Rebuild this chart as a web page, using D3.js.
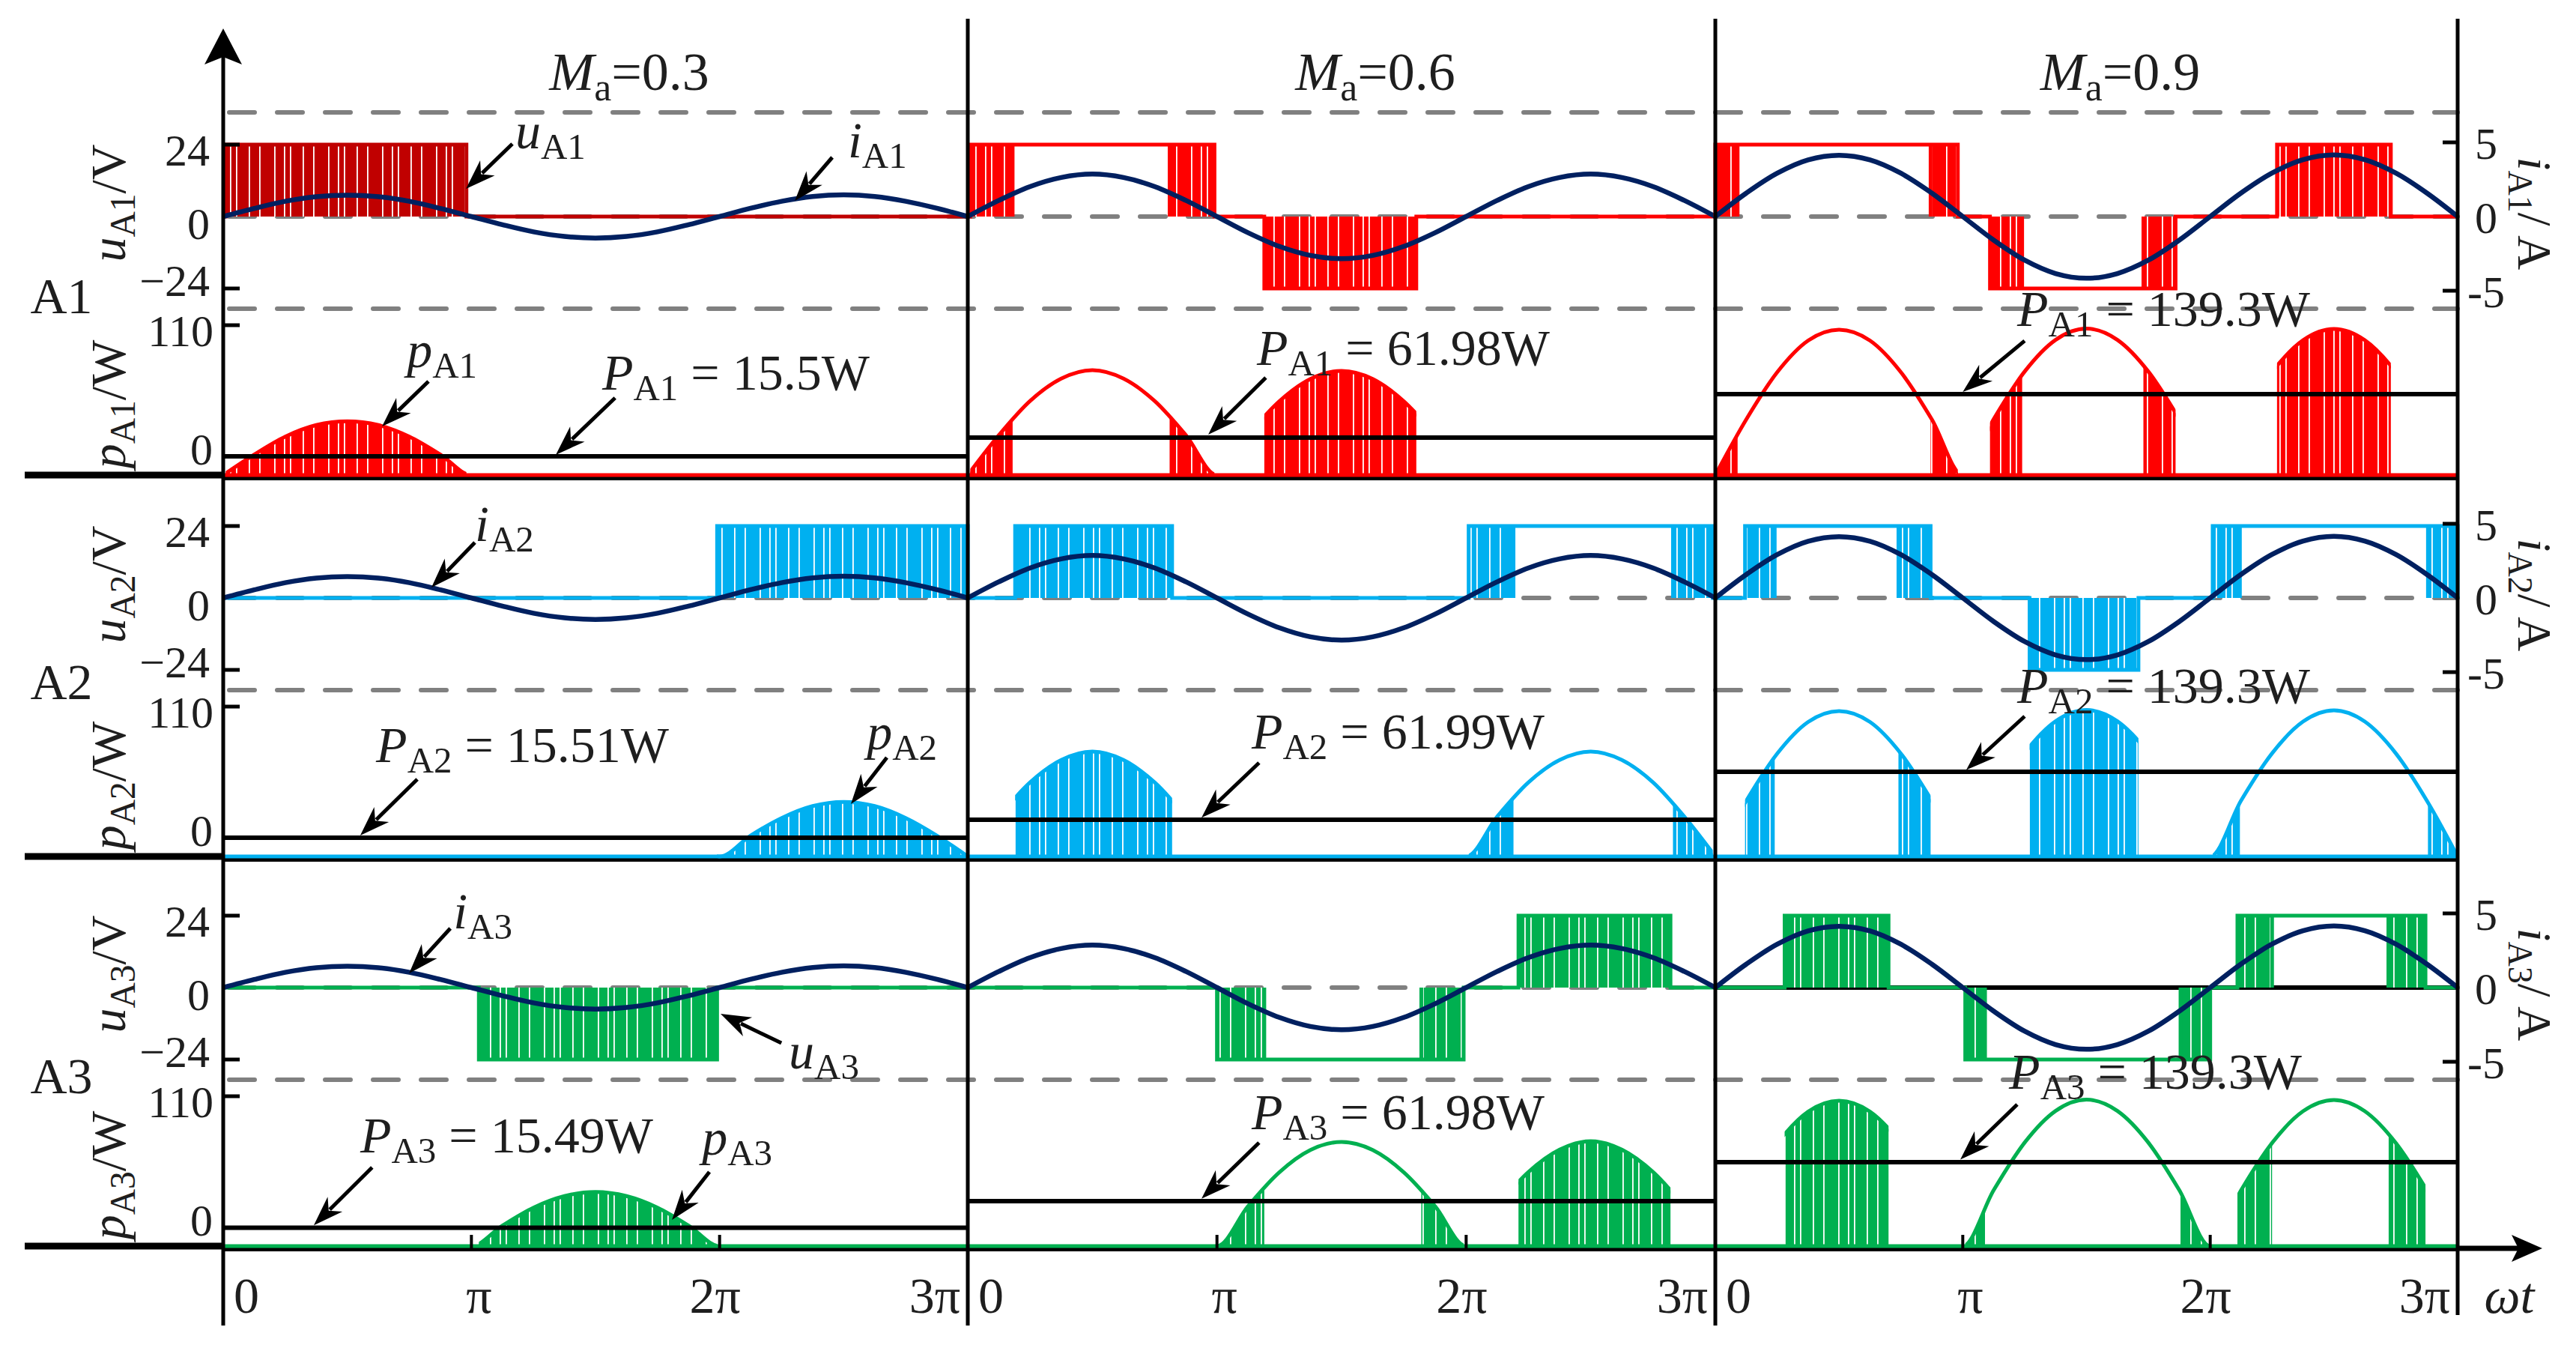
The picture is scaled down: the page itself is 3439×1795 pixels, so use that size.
<!DOCTYPE html>
<html>
<head>
<meta charset="utf-8">
<script src="https://cdn.jsdelivr.net/npm/d3@7/dist/d3.min.js"></script>
<style>
html,body{margin:0;padding:0;background:#fff;}
svg{display:block;}
text{font-family:"Liberation Serif","Times New Roman",Times,serif;fill:#1e1e1e;white-space:pre;}
</style>
</head>
<body>
<svg id="chart" width="3439" height="1795" viewBox="0 0 3439 1795"></svg>
<script>
// ================= DATA =================
const modulationIndex = ["0.3", "0.6", "0.9"];
const cellNames = ["A1", "A2", "A3"];
const cellColors = ["#FF0000", "#00B0F0", "#00B050"];
const firstPanelVoltageColorA1 = "#C00000";
const currentColor = "#002060";

const thetaTickValues = [0, 1, 2, 3];          // in units of pi
const thetaTickLabels = ["0", "π", "2π", "3π"];
const uTickValues = [24, 0, -24];
const uTickLabels = ["24", "0", "−24"];
const iTickValues = [5, 0, -5];
const iTickLabels = ["5", "0", "-5"];
const pTickValues = [110, 0];
const pTickLabels = ["110", "0"];

// current samples (A), read every pi/8 over 0..3pi, identical in the three cells
const sampleTheta = [0,0.125,0.25,0.375,0.5,0.625,0.75,0.875,1,1.125,1.25,1.375,1.5,1.625,1.75,1.875,2,2.125,2.25,2.375,2.5,2.625,2.75,2.875,3];
const currentMa03 = [0,0.55,1.03,1.34,1.44,1.34,1.03,0.55,0,-0.55,-1.03,-1.34,-1.45,-1.34,-1.03,-0.55,0,0.56,1.03,1.35,1.46,1.35,1.03,0.56,0];
const currentMa06 = [0,1.09,2.02,2.63,2.86,2.63,2.02,1.09,0,-1.09,-2.01,-2.62,-2.84,-2.62,-2.01,-1.09,0,1.09,2.02,2.63,2.86,2.63,2.02,1.09,0];
const currentMa09 = [0,1.58,2.92,3.82,4.13,3.82,2.92,1.58,0,-1.59,-2.94,-3.84,-4.16,-3.84,-2.94,-1.59,0,1.59,2.93,3.83,4.15,3.83,2.93,1.59,0];
const powerPeak = [40, 77, 107.5];   // W, peak of instantaneous power per Ma

// average power labels and the level at which the average line is drawn (W)
const avgPowerA1 = ["15.5", "61.98", "139.3"];
const avgPowerA2 = ["15.51", "61.99", "139.3"];
const avgPowerA3 = ["15.49", "61.98", "139.3"];
const avgLineA1 = [13.8, 27.5, 59.4];
const avgLineA2 = [13.8, 27.0, 62.2];
const avgLineA3 = [13.5, 33.0, 61.6];

// cell voltage segments: [start, end, sign, kind] (theta in pi units; kind: pwm = switching, on = held)
const uA1 = [
  [[0.01,0.98,1,"pwm"]],
  [[0.01,0.18,1,"pwm"],[0.18,0.81,1,"on"],[0.81,0.99,1,"pwm"],[1.19,1.80,-1,"pwm"]],
  [[0.0,0.09,1,"pwm"],[0.09,0.87,1,"on"],[0.87,0.98,1,"pwm"],[1.11,1.24,-1,"pwm"],[1.24,1.73,-1,"on"],[1.73,1.86,-1,"pwm"],[2.27,2.73,1,"pwm"]]
];
const uA2 = [
  [[1.99,3.0,1,"pwm"]],
  [[0.19,0.82,1,"pwm"],[2.01,2.19,1,"pwm"],[2.19,2.83,1,"on"],[2.83,2.99,1,"pwm"]],
  [[0.12,0.24,1,"pwm"],[0.24,0.74,1,"on"],[0.74,0.87,1,"pwm"],[1.27,1.71,-1,"pwm"],[2.01,2.12,1,"pwm"],[2.12,2.88,1,"on"],[2.88,3.0,1,"pwm"]]
];
const uA3 = [
  [[1.03,1.99,-1,"pwm"]],
  [[1.0,1.19,-1,"pwm"],[1.19,1.82,-1,"on"],[1.82,1.99,-1,"pwm"],[2.21,2.82,1,"pwm"]],
  [[0.28,0.70,1,"pwm"],[1.01,1.09,-1,"pwm"],[1.09,1.88,-1,"on"],[1.88,2.0,-1,"pwm"],[2.11,2.25,1,"pwm"],[2.25,2.72,1,"on"],[2.72,2.87,1,"pwm"]]
];
const uAmplitude = 24;

// dashed guide levels (V, on the voltage scale)
const guideTopU = 34.75;
const guideLowU = -30.75;

// curve name labels: [cell, panel, scale, symbol, labelT, labelV, fromT, fromV, toT, toV]
const curveLabels = [
  [0,0,"u","u",1.177,22.75,1.165,24.25,0.978,9.25],
  [0,0,"u","i",2.517,19.75,2.454,19.75,2.303,5.25],
  [0,0,"p","p",0.74,79.2,0.827,68.75,0.64,35.75],
  [1,0,"u","i",1.014,19,1.014,18.5,0.839,3.5],
  [1,0,"p","p",2.593,78.65,2.674,72.6,2.529,38.5],
  [2,0,"u","i",0.927,19.75,0.915,19.75,0.749,4.75],
  [2,0,"u","u",2.279,-27,2.249,-18.5,2.004,-8.75],
  [2,0,"p","p",1.929,67.1,1.959,54.45,1.808,19.25]
];
// average power label placement: [labelT, labelP, fromT, fromP, toT, toP]
const avgLabelA1 = [[1.527,62.7,1.579,56.65,1.34,14.85],[1.16,80.9,1.196,71.5,0.965,29.7],[1.22,109.5,1.25,98.5,1.0,61]];
const avgLabelA2 = [[0.616,69.3,0.782,56.65,0.552,15.4],[1.139,79.2,1.169,68.75,0.938,28.5],[1.22,112.75,1.25,102.85,1.014,63.5]];
const avgLabelA3 = [[0.552,68.75,0.6,57.75,0.365,15.2],[1.139,85.8,1.169,75.9,0.938,34.8],[1.187,115.5,1.22,103.95,0.99,63.5]];

// ================= LAYOUT =================
const panelEdges = [298, 1292, 2290, 3281];
const blockShift = [0, 509, 1029];
const FS = 68;
const TFS = 60;

const svg = d3.select("#chart");
const defs = svg.append("defs");

const currents = [currentMa03, currentMa06, currentMa09];
const uSegs = [uA1, uA2, uA3];
const avgPower = [avgPowerA1, avgPowerA2, avgPowerA3];
const avgLine = [avgLineA1, avgLineA2, avgLineA3];
const avgLabel = [avgLabelA1, avgLabelA2, avgLabelA3];

const xS = modulationIndex.map((m,k) => d3.scaleLinear().domain([0,3]).range([panelEdges[k], panelEdges[k+1]]));
const uS = cellNames.map((c,b) => d3.scaleLinear().domain([-24,24]).range([385+blockShift[b], 193+blockShift[b]]));
const iS = cellNames.map((c,b) => d3.scaleLinear().domain([-5,5]).range([388+blockShift[b], 190+blockShift[b]]));
const pS = cellNames.map((c,b) => d3.scaleLinear().domain([0,110]).range([634+blockShift[b], 434+blockShift[b]]));

// PWM stripe patterns
const patColors = [firstPanelVoltageColorA1, ...cellColors];
patColors.forEach((col, n) => {
  const p = defs.append("pattern").attr("id","pwm"+n).attr("patternUnits","userSpaceOnUse")
    .attr("width",72).attr("height",8);
  p.append("rect").attr("width",72).attr("height",8).attr("fill",col);
  [6, 19, 27, 44, 58].forEach(x => p.append("rect").attr("x",x).attr("width",1.8).attr("height",8).attr("fill","#fff"));
});
const patId = col => "url(#pwm" + patColors.indexOf(col) + ")";

function rich(g, x, y, parts, size, anchor, transform) {
  const t = g.append("text").attr("x",x).attr("y",y).attr("font-size",size)
    .attr("text-anchor",anchor || "start");
  if (transform) t.attr("transform", transform);
  let shift = 0;
  parts.forEach(p => {
    const s = t.append("tspan").text(p.t);
    if (p.i) s.attr("font-style","italic");
    const target = p.sub ? size*0.2 : 0;
    if (target !== shift) { s.attr("dy", target - shift); shift = target; }
    if (p.sub) s.attr("font-size", size*0.72);
  });
  return t;
}

function arrow(g, x1, y1, x2, y2) {
  const a = Math.atan2(y2-y1, x2-x1), L = 40, W = 14;
  const ca = Math.cos(a), sa = Math.sin(a);
  const bx = x2 - L*ca, by = y2 - L*sa;
  g.append("line").attr("x1",x1).attr("y1",y1).attr("x2",bx+10*ca).attr("y2",by+10*sa)
    .attr("stroke","#000").attr("stroke-width",5);
  const px = -sa, py = ca;
  g.append("path").attr("d",`M${x2},${y2}L${bx+px*W},${by+py*W}L${bx+0.3*L*ca},${by+0.3*L*sa}L${bx-px*W},${by-py*W}Z`)
    .attr("fill","#000");
}

const gGuides = svg.append("g");
const gSignals = svg.append("g");
const gAxes = svg.append("g");
const gText = svg.append("g");

const xLeft = panelEdges[0], xRight = panelEdges[3];

// ---- guides ----
const dash = sel => sel.attr("stroke","#808080").attr("stroke-width",6).attr("stroke-dasharray","34 30").attr("stroke-linecap","round");
gGuides.append("line").attr("x1",xLeft+8).attr("x2",xRight).attr("y1",uS[0](guideTopU)).attr("y2",uS[0](guideTopU)).call(dash);
cellNames.forEach((c,b) => {
  [0, guideLowU].forEach(v => gGuides.append("line").attr("x1",xLeft+8).attr("x2",xRight)
     .attr("y1",uS[b](v)).attr("y2",uS[b](v)).call(dash));
  gGuides.append("line").attr("x1",xLeft).attr("x2",xRight).attr("y1",pS[b](0)+4).attr("y2",pS[b](0)+4)
     .attr("stroke","#000").attr("stroke-width",6);
});
// solid zero reference in last panel of A3
gGuides.append("line").attr("x1",xS[2](0)).attr("x2",xS[2](3)).attr("y1",uS[2](0)).attr("y2",uS[2](0))
  .attr("stroke","#000").attr("stroke-width",6);

// ---- signals ----
cellNames.forEach((cell, b) => {
  modulationIndex.forEach((m, k) => {
    const x = xS[k], uy = uS[b], iy = iS[b], py = pS[b];
    const g = gSignals.append("g");
    const uCol = (b === 0 && k === 0) ? firstPanelVoltageColorA1 : cellColors[b];
    const pCol = cellColors[b];
    const segs = uSegs[b][k];

    // voltage: step outline + switching fills
    let d = `M${x(0)},${uy(0)}`;
    segs.forEach(s => { const lv = uAmplitude*s[2]; d += `H${x(s[0])}V${uy(lv)}H${x(s[1])}V${uy(0)}`; });
    d += `H${x(3)}`;
    segs.filter(s => s[3] === "pwm").forEach(s => {
      const lv = uAmplitude*s[2];
      g.append("rect").attr("x",x(s[0])).attr("width",x(s[1])-x(s[0]))
        .attr("y",Math.min(uy(0),uy(lv))).attr("height",Math.abs(uy(lv)-uy(0))).attr("fill",patId(uCol));
    });
    g.append("path").attr("d",d).attr("fill","none").attr("stroke",uCol).attr("stroke-width",5).attr("stroke-linejoin","miter");

    // power: envelope = peak * |i| / max|i|, shown only where the cell is active
    const cur = currents[k];
    const imax = d3.max(cur, v => Math.abs(v));
    const env = sampleTheta.map((t,j) => ({t, p: powerPeak[k]*Math.abs(cur[j])/imax}));
    const area = d3.area().x(dd => x(dd.t)).y0(py(0)).y1(dd => py(dd.p)).curve(d3.curveMonotoneX);
    const line = d3.line().x(dd => x(dd.t)).y(dd => py(dd.p)).curve(d3.curveMonotoneX);
    const idAll = `clipA${b}${k}`, idPwm = `clipP${b}${k}`;
    const cAll = defs.append("clipPath").attr("id",idAll);
    const cPwm = defs.append("clipPath").attr("id",idPwm);
    segs.forEach(s => {
      cAll.append("rect").attr("x",x(s[0])).attr("width",x(s[1])-x(s[0])).attr("y",py(130)).attr("height",py(0)-py(130)+3);
      if (s[3] === "pwm") cPwm.append("rect").attr("x",x(s[0])).attr("width",x(s[1])-x(s[0])).attr("y",py(130)).attr("height",py(0)-py(130)+3);
    });
    g.append("path").attr("d",area(env)).attr("fill",patId(pCol)).attr("clip-path",`url(#${idPwm})`);
    g.append("path").attr("d",line(env)).attr("fill","none").attr("stroke",pCol).attr("stroke-width",5).attr("clip-path",`url(#${idAll})`);
    g.append("line").attr("x1",x(0)).attr("x2",x(3)).attr("y1",py(0)).attr("y2",py(0)).attr("stroke",pCol).attr("stroke-width",5);

    // current
    const iLine = d3.line().x((t,j) => x(t)).y((t,j) => iy(cur[j])).curve(d3.curveCatmullRom);
    g.append("path").attr("d",iLine(sampleTheta)).attr("fill","none").attr("stroke",currentColor).attr("stroke-width",6.5);

    // average power line
    g.append("line").attr("x1",x(0)).attr("x2",x(3)).attr("y1",py(avgLine[b][k])).attr("y2",py(avgLine[b][k]))
      .attr("stroke","#000").attr("stroke-width",6);

    // average power label + arrow
    const L = avgLabel[b][k];
    rich(gText, x(L[0]), py(L[1]), [{t:"P",i:1},{t:cell,sub:1},{t:" = "+avgPower[b][k]+"W"}], FS);
    arrow(gText, x(L[2]), py(L[3]), x(L[4]), py(L[5]));
  });
});

// curve name labels
curveLabels.forEach(c => {
  const [b,k,sc,sym,lt,lv,ft,fv,tt,tv] = c;
  const ys = sc === "u" ? uS[b] : pS[b];
  rich(gText, xS[k](lt), ys(lv), [{t:sym,i:1},{t:cellNames[b],sub:1}], FS);
  arrow(gText, xS[k](ft), ys(fv), xS[k](tt), ys(tv));
});

// ---- axes ----
const yTop = 25, yBottom = 1769;
const axisLine = (x1,y1,x2,y2,w) => gAxes.append("line").attr("x1",x1).attr("y1",y1).attr("x2",x2).attr("y2",y2).attr("stroke","#000").attr("stroke-width",w||5);
axisLine(xLeft, 70, xLeft, yBottom, 5);
gAxes.append("path").attr("d",`M${xLeft},38L${xLeft-25},86L${xLeft},76L${xLeft+25},86Z`).attr("fill","#000");
axisLine(panelEdges[1], yTop, panelEdges[1], yBottom, 5);
axisLine(panelEdges[2], yTop, panelEdges[2], yBottom, 5);
axisLine(xRight, yTop, xRight, 1755, 5);

cellNames.forEach((c,b) => {
  const y0 = pS[b](0);
  axisLine(33, y0, xLeft, y0, 9);
  uTickValues.filter(v => v !== 0).forEach(v => axisLine(xLeft, uS[b](v), xLeft+22, uS[b](v), 5));
  axisLine(xLeft, pS[b](110), xLeft+22, pS[b](110), 5);
  iTickValues.filter(v => v !== 0).forEach(v => axisLine(xRight-20, iS[b](v), xRight, iS[b](v), 5));
});
// bottom time axis with arrow
const yAx = pS[2](0) + 3;
axisLine(xRight, yAx, 3362, yAx, 7);
gAxes.append("path").attr("d",`M3394,${yAx}L3353,${yAx-18}L3362,${yAx}L3353,${yAx+18}Z`).attr("fill","#000");
modulationIndex.forEach((m,k) => {
  [1,2].forEach(v => axisLine(xS[k](v), yAx-18, xS[k](v), yAx, 4));
});

// ---- axis text ----
cellNames.forEach((cell,b) => {
  const uOff = {"24": 28, "0": 30, "−24": 10};
  uTickValues.forEach((v,n) => {
    gText.append("text").attr("x",280).attr("y",uS[b](v)+uOff[uTickLabels[n]]).attr("font-size",TFS).attr("text-anchor","end").text(uTickLabels[n]);
  });
  gText.append("text").attr("x",285).attr("y",pS[b](110)+28).attr("font-size",TFS).attr("text-anchor","end").text(pTickLabels[0]);
  gText.append("text").attr("x",284).attr("y",pS[b](0)-14).attr("font-size",TFS).attr("text-anchor","end").text(pTickLabels[1]);
  iTickValues.forEach((v,n) => {
    gText.append("text").attr("x",3319).attr("y",iS[b](v)+22).attr("font-size",TFS).attr("text-anchor","middle").text(iTickLabels[n]);
  });
  gText.append("text").attr("x",82).attr("y",uS[b](guideLowU)+6+b*6).attr("font-size",FS).attr("text-anchor","middle").text(cell);
  const uy = uS[b](4.5), pyy = pS[b](52);
  rich(gText, 167, uy, [{t:"u",i:1},{t:cell,sub:1},{t:"/V"}], 66, "middle", `rotate(-90,167,${uy})`);
  rich(gText, 167, pyy, [{t:"p",i:1},{t:cell,sub:1},{t:"/W"}], 66, "middle", `rotate(-90,167,${pyy})`);
  const iy0 = iS[b](0) - 4;
  rich(gText, 3362, iy0, [{t:"i",i:1},{t:cell,sub:1},{t:"/ A"}], 64, "middle", `rotate(90,3362,${iy0})`);
});

// modulation index titles
modulationIndex.forEach((m,k) => {
  const cx = (panelEdges[k] + panelEdges[k+1]) / 2 + 45;
  rich(gText, cx, 120, [{t:"M",i:1},{t:"a",sub:1},{t:"="+m}], 72, "middle");
});

// theta tick labels
const yLab = 1752;
modulationIndex.forEach((m,k) => {
  const x = xS[k];
  thetaTickValues.forEach((v,n) => {
    const t = gText.append("text").attr("y",yLab).attr("font-size",FS).text(thetaTickLabels[n]);
    if (n === 0) t.attr("x",x(v)+14).attr("text-anchor","start");
    else if (n === 3) t.attr("x",x(v)-10).attr("text-anchor","end");
    else t.attr("x",x(v)+(n===1?10:-6)).attr("text-anchor","middle");
  });
});
rich(gText, 3350, yLab, [{t:"ωt",i:1}], FS, "middle");
</script>
</body>
</html>
